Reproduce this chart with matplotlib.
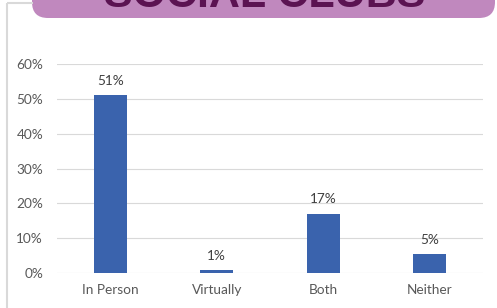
import matplotlib.pyplot as plt
from matplotlib.patches import FancyBboxPatch

# data
categories = ['In Person', 'Virtually', 'Both', 'Neither']
values = [0.51, 0.009, 0.17, 0.054]
ticks = [0, 0.1, 0.2, 0.3, 0.4, 0.5, 0.6]

W, H = 497, 308
fig = plt.figure(figsize=(W / 100, H / 100), dpi=100)
plt.rcParams['font.family'] = ['Lato', 'DejaVu Sans']

# background layer in pixel coords
bg = fig.add_axes([0, 0, 1, 1], zorder=0)
bg.set_xlim(0, W)
bg.set_ylim(H, 0)
bg.axis('off')
bg.plot([7, 7], [3, H], color='#d9d9d9', lw=1.5, solid_capstyle='butt')
bg.plot([7, 33], [3, 3], color='#d9d9d9', lw=1.5, solid_capstyle='butt')
banner = FancyBboxPatch((32, -60), 463, 78, boxstyle='round,pad=0,rounding_size=16',
                        facecolor='#c088be', edgecolor='none')
bg.add_patch(banner)
bg.text(265, 7, 'SOCIAL CLUBS', ha='center', va='baseline', fontsize=31,
        fontweight='bold', color='#5b1352', family='Liberation Sans')

ax = fig.add_axes([57 / W, (H - 273) / H, 426 / W, 209 / H], zorder=1)
ax.patch.set_alpha(0)
x = range(len(categories))
bars = ax.bar(x, values, width=0.31, color='#3a63ad', zorder=3)
for b, v in zip(bars, values):
    ax.annotate('{:.0f}%'.format(v * 100), (b.get_x() + b.get_width() / 2, v),
                xytext=(0, 6), textcoords='offset points', ha='center', va='bottom',
                fontsize=9.8, color='#404040')

ax.set_xlim(-0.5, 3.5)
ax.set_ylim(0, 0.6)
ax.set_yticks(ticks)
ax.set_yticklabels(['{:.0f}%'.format(t * 100) for t in ticks])
ax.set_xticks(list(x))
ax.set_xticklabels(categories)
ax.grid(axis='y', color='#d9d9d9', lw=0.8, zorder=0)
for s in ax.spines.values():
    s.set_visible(False)
ax.tick_params(length=0, labelsize=9.8, labelcolor='#595959')
ax.tick_params(axis='y', pad=10)
ax.tick_params(axis='x', pad=8)

fig.savefig('out.png', dpi=100)
